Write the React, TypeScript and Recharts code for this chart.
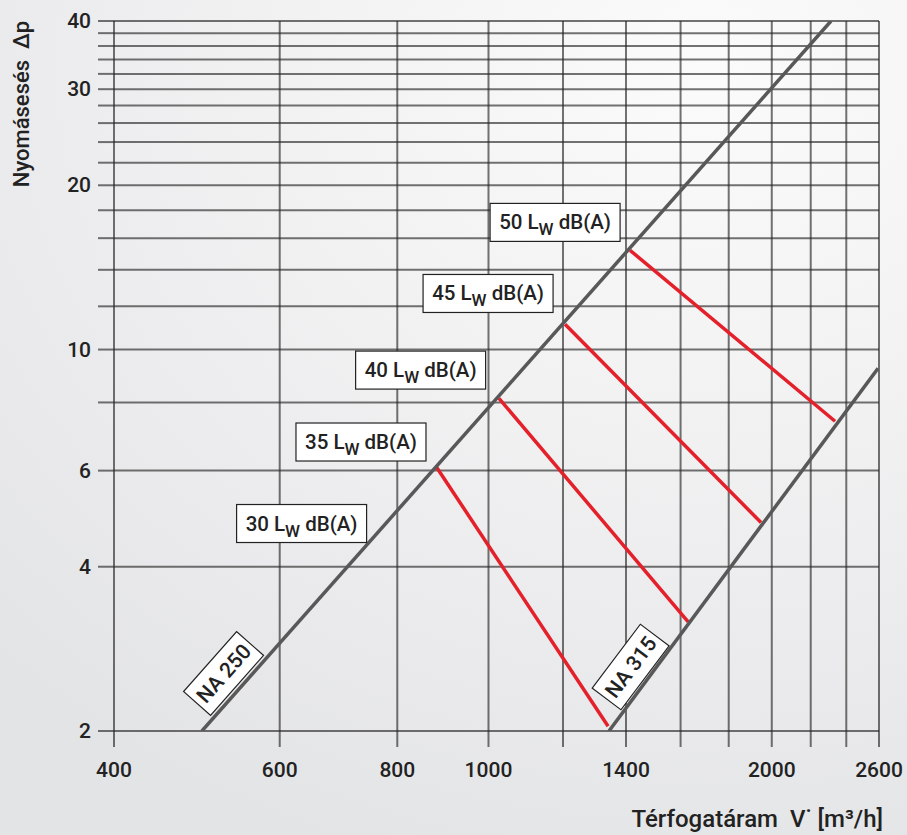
import React from "react";
import { LineChart, Line, XAxis, YAxis, CartesianGrid, ReferenceDot } from "recharts";

const X_GRID = [400, 600, 800, 1000, 1200, 1400, 1600, 1800, 2000, 2200, 2400, 2600];
const X_LABELS = [400, 600, 800, 1000, 1400, 2000, 2600];
const Y_GRID = [2, 4, 6, 8, 10, 12, 14, 16, 18, 20, 22, 24, 26, 28, 30, 32, 34, 36, 38, 40];
const Y_LABELS = [2, 4, 6, 10, 20, 30, 40];

// duct curves: v = volume flow [m3/h], p = pressure drop
const NA250 = [{ v: 496, p: 2 }, { v: 2312, p: 40 }];
const NA315 = [{ v: 1343, p: 2 }, { v: 2594, p: 9.24 }];

// sound power lines, from NA 250 to NA 315
const LW35 = [{ v: 880, p: 6.1 }, { v: 1340, p: 2.04 }];
const LW40 = [{ v: 1026, p: 8.14 }, { v: 1630, p: 3.17 }];
const LW45 = [{ v: 1206, p: 11.13 }, { v: 1948, p: 4.82 }];
const LW50 = [{ v: 1414, p: 15.2 }, { v: 2335, p: 7.39 }];

const LW_LEVELS = [30, 35, 40, 45, 50];
const LW_LABEL_V = [633, 732, 847, 999, 1177];
const LW_LABEL_P = [4.8, 6.77, 9.17, 12.67, 17.1];

const DUCT_NAMES = ["NA 250", "NA 315"];
const DUCT_LABEL_V = [523, 1416];
const DUCT_LABEL_P = [2.55, 2.62];
const DUCT_ANGLE = [-48.5, -53];

const FONT = 'Roboto, "Liberation Sans", Arial, sans-serif';
const WEIGHT = 500;
const TXT = "#222";
const GRID = "rgba(40,40,40,0.65)";
const DUCT = "#585858";
const RED = "#e4202a";

const XTick = (props: any) => {
  const { x, y, payload } = props;
  if (!X_LABELS.includes(payload.value)) return null;
  return (
    <text x={x} y={y + 30} textAnchor="middle" fontSize={21} fontWeight={WEIGHT} fill={TXT} fontFamily={FONT}>
      {payload.value}
    </text>
  );
};

const YTick = (props: any) => {
  const { x, y, payload } = props;
  if (!Y_LABELS.includes(payload.value)) return null;
  return (
    <text x={x} y={y + 7} textAnchor="end" fontSize={21} fontWeight={WEIGHT} fill={TXT} fontFamily={FONT}>
      {payload.value}
    </text>
  );
};

const lwBox = (level: number) => (props: any) => {
  const { cx, cy } = props;
  return (
    <g>
      <rect x={cx - 65} y={cy - 19} width={130} height={38} fill="#fff" stroke="#222" strokeWidth={1.2} />
      <text x={cx} y={cy + 7} textAnchor="middle" fontSize={20.5} fontWeight={WEIGHT} fill={TXT} fontFamily={FONT} style={{ whiteSpace: "pre" }}>
        <tspan>{`${level} L`}</tspan>
        <tspan fontSize={17} dy={6}>W</tspan>
        <tspan dy={-6}>{" dB(A)"}</tspan>
      </text>
    </g>
  );
};

const ductBox = (name: string, angle: number) => (props: any) => {
  const { cx, cy } = props;
  return (
    <g transform={`translate(${cx},${cy}) rotate(${angle})`}>
      <rect x={-40} y={-18} width={80} height={36} fill="#fff" stroke="#222" strokeWidth={1.2} />
      <text x={0} y={7.5} textAnchor="middle" fontSize={21} fontWeight={WEIGHT} fill={TXT} fontFamily={FONT}>
        {name}
      </text>
    </g>
  );
};

const XTitle = (props: any) => {
  const { viewBox } = props;
  return (
    <text x={viewBox.x + viewBox.width + 4} y={viewBox.y + 96} textAnchor="end" fontSize={24} fontWeight={WEIGHT} fill={TXT} fontFamily={FONT} style={{ whiteSpace: "pre" }}>
      {"Térfogatáram  V˙ [m³/h]"}
    </text>
  );
};

const YTitle = () => (
  <text x={29} y={104} transform="rotate(-90, 29, 104)" textAnchor="middle" fontSize={22} fontWeight={WEIGHT} fill={TXT} fontFamily={FONT} style={{ whiteSpace: "pre" }}>
    {"Nyomásesés  Δp"}
  </text>
);

export default function App() {
  const redLines = [LW35, LW40, LW45, LW50];
  return (
    <div
      style={{
        width: 907,
        height: 835,
        background: "radial-gradient(ellipse 110% 100% at 78% 8%, #fbfbfb 0%, #f1f1f2 45%, #e3e4e6 100%)",
      }}
    >
      <style>{"body{margin:0}"}</style>
      <LineChart width={907} height={835} margin={{ top: 21, right: 28, bottom: 0, left: 0 }}>
        <CartesianGrid stroke={GRID} strokeWidth={2} />
        <XAxis
          type="number"
          dataKey="v"
          scale="log"
          domain={[400, 2600]}
          allowDataOverflow
          ticks={X_GRID}
          interval={0}
          tick={<XTick />}
          tickSize={16}
          tickMargin={0}
          tickLine={{ stroke: GRID, strokeWidth: 2 }}
          axisLine={false}
          height={104}
          label={<XTitle />}
        />
        <YAxis
          type="number"
          dataKey="p"
          scale="log"
          domain={[2, 40]}
          allowDataOverflow
          ticks={Y_GRID}
          interval={0}
          tick={<YTick />}
          tickSize={16}
          tickMargin={7}
          tickLine={{ stroke: GRID, strokeWidth: 2 }}
          axisLine={false}
          width={114}
          label={<YTitle />}
        />
        {redLines.map((d, i) => (
          <Line
            key={`lw${i}`}
            data={d}
            dataKey="p"
            type="linear"
            stroke={RED}
            strokeWidth={3.5}
            dot={false}
            activeDot={false}
            isAnimationActive={false}
          />
        ))}
        <Line data={NA250} dataKey="p" type="linear" stroke={DUCT} strokeWidth={3.5} dot={false} activeDot={false} isAnimationActive={false} />
        <Line data={NA315} dataKey="p" type="linear" stroke={DUCT} strokeWidth={3.5} dot={false} activeDot={false} isAnimationActive={false} />
        {LW_LEVELS.map((lv, i) => (
          <ReferenceDot key={`lb${lv}`} x={LW_LABEL_V[i]} y={LW_LABEL_P[i]} r={1} shape={lwBox(lv)} />
        ))}
        {DUCT_NAMES.map((n, i) => (
          <ReferenceDot key={n} x={DUCT_LABEL_V[i]} y={DUCT_LABEL_P[i]} r={1} shape={ductBox(n, DUCT_ANGLE[i])} />
        ))}
      </LineChart>
    </div>
  );
}
